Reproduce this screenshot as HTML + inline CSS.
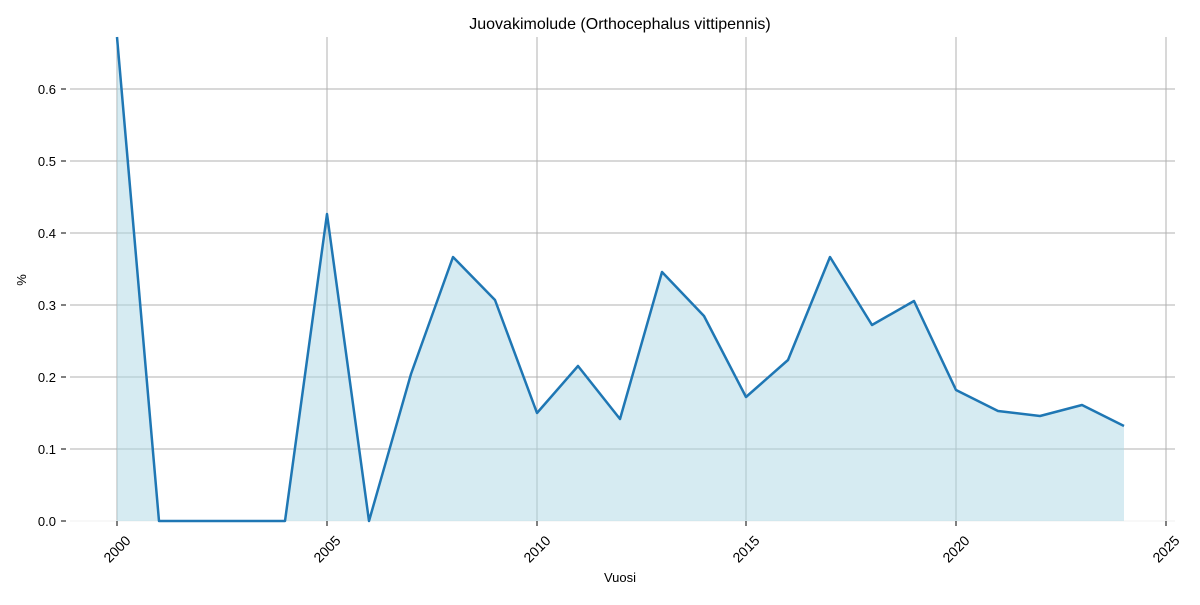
<!DOCTYPE html><html><head><style>body{margin:0;background:#fff}svg text{font-family:"Liberation Sans","DejaVu Sans",sans-serif;fill:#000}</style></head><body>
<svg width="1200" height="600" xmlns="http://www.w3.org/2000/svg">
<text x="620" y="29" font-size="16" text-anchor="middle">Juovakimolude (Orthocephalus vittipennis)</text>
<g stroke="#b0b0b0" stroke-width="1">
<line x1="70" x2="1175" y1="449" y2="449"/><line x1="70" x2="1175" y1="377" y2="377"/><line x1="70" x2="1175" y1="305" y2="305"/><line x1="70" x2="1175" y1="233" y2="233"/><line x1="70" x2="1175" y1="161" y2="161"/><line x1="70" x2="1175" y1="89" y2="89"/>
<line x1="117" x2="117" y1="37" y2="521"/><line x1="327" x2="327" y1="37" y2="521"/><line x1="537" x2="537" y1="37" y2="521"/><line x1="746" x2="746" y1="37" y2="521"/><line x1="956" x2="956" y1="37" y2="521"/><line x1="1166" x2="1166" y1="37" y2="521"/>
</g>
<line x1="70" x2="1175" y1="521" y2="521" stroke="#f0f0f0"/>
<polygon fill="#add8e6" fill-opacity="0.5" points="117,521 117,37 159,521 201,521 243,521 285,521 327,214 369,521 411,374 453,257 495,300 537,413 578,366 620,419 662,272 704,316 746,397 788,360 830,257 872,325 914,301 956,390 998,411 1040,416 1082,405 1124,426 1124,521"/>
<polyline fill="none" stroke="#1f77b4" stroke-width="2.5" stroke-linejoin="round" points="117,37 159,521 201,521 243,521 285,521 327,214 369,521 411,374 453,257 495,300 537,413 578,366 620,419 662,272 704,316 746,397 788,360 830,257 872,325 914,301 956,390 998,411 1040,416 1082,405 1124,426"/>
<g stroke="#000" stroke-width="1">
<line x1="61" x2="66" y1="521" y2="521"/><line x1="61" x2="66" y1="449" y2="449"/><line x1="61" x2="66" y1="377" y2="377"/><line x1="61" x2="66" y1="305" y2="305"/><line x1="61" x2="66" y1="233" y2="233"/><line x1="61" x2="66" y1="161" y2="161"/><line x1="61" x2="66" y1="89" y2="89"/>
<line x1="117" x2="117" y1="521" y2="526"/><line x1="327" x2="327" y1="521" y2="526"/><line x1="537" x2="537" y1="521" y2="526"/><line x1="746" x2="746" y1="521" y2="526"/><line x1="956" x2="956" y1="521" y2="526"/><line x1="1166" x2="1166" y1="521" y2="526"/>
</g>
<g font-size="13" text-anchor="end">
<text x="56" y="526">0.0</text><text x="56" y="454">0.1</text><text x="56" y="382">0.2</text><text x="56" y="310">0.3</text><text x="56" y="238">0.4</text><text x="56" y="166">0.5</text><text x="56" y="94">0.6</text>
</g>
<g font-size="14" text-anchor="middle">
<text transform="translate(117,549) rotate(-45)" dy="5">2000</text><text transform="translate(327,549) rotate(-45)" dy="5">2005</text><text transform="translate(537,549) rotate(-45)" dy="5">2010</text><text transform="translate(746,549) rotate(-45)" dy="5">2015</text><text transform="translate(956,549) rotate(-45)" dy="5">2020</text><text transform="translate(1166,549) rotate(-45)" dy="5">2025</text>
</g>
<text x="620" y="582" font-size="13" text-anchor="middle">Vuosi</text>
<text transform="translate(26,280) rotate(-90)" font-size="13" text-anchor="middle">%</text>
</svg></body></html>
